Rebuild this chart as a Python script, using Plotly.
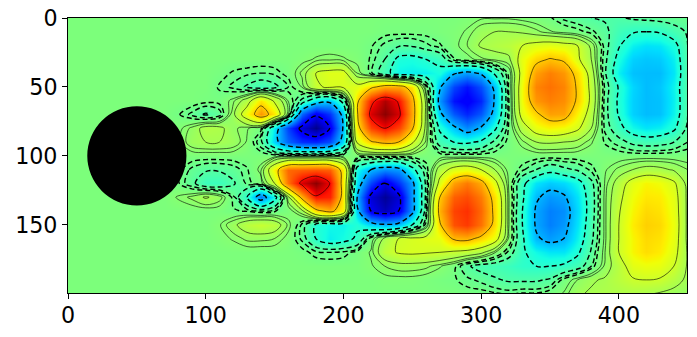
import plotly.graph_objects as go

# vorticity, in hundredths, one list per row (x = 0, 10, ... 450)
x_grid = [0, 10, 20, 30, 40, 50, 60, 70, 80, 90, 100, 110, 120, 130, 140, 150, 160, 170, 180, 190,
          200, 210, 220, 230, 240, 250, 260, 270, 280, 290, 300, 310, 320, 330, 340, 350, 360, 370, 380, 390,
          400, 410, 420, 430, 440, 450]
y_grid = [0, 10, 20, 30, 40, 50, 60, 70, 80, 90, 100, 110, 120, 130, 140, 150, 160, 170, 180, 190, 200]

y000 = [0,0,0,0,0,0,0,0,0,0, 0,0,0,0,0,0,0,0,0,0, 0,0,0,0,0,0,0,0,0,1, 2,2,2,1,0,-2,-6,-8,-10,-11, -11,-9,-8,-7,-6,-5]
y010 = [0,0,0,0,0,0,0,0,0,0, 0,0,0,0,0,0,0,0,0,0, 0,0,0,-1,-1,-1,-1,0,1,3, 8,10,10,9,6,3,1,-1,-4,-8, -15,-19,-20,-19,-14,-9]
y020 = [0,0,0,0,0,0,0,0,0,0, 0,0,0,0,0,0,0,0,0,0, 0,0,-2,-6,-9,-9,-6,-3,1,5, 11,13,15,20,24,26,24,20,8,-7, -19,-28,-31,-30,-24,-10]
y030 = [0,0,0,0,0,0,0,0,0,0, 0,0,0,0,0,0,0,1,3,4, 3,1,-3,-10,-23,-24,-20,-16,-3,1, 4,6,8,26,36,41,38,22,10,-8, -24,-34,-36,-35,-28,-10]
y040 = [0,0,0,0,0,0,0,0,0,0, 0,-1,-3,-4,-5,-4,-1,6,20,24, 24,5,-4,-15,-27,-28,-28,-24,-38,-44, -38,-18,-1,25,48,55,50,35,14,-9, -28,-37,-38,-38,-30,-10]
y050 = [0,0,0,0,0,0,0,0,0,0, 0,-3,-6,-11,-15,-12,-5,3,18,22, 22,24,36,46,46,34,-1,-38,-62,-72, -60,-36,-2,28,54,58,54,38,16,-6, -21,-33,-38,-36,-27,-10]
y060 = [0,0,0,0,0,0,0,0,0,0, -1,-1,4,14,34,18,2,-12,-30,-36, -15,36,75,92,78,45,8,-46,-72,-78, -68,-38,-3,28,50,55,52,38,17,-7, -22,-34,-38,-37,-28,-10]
y070 = [0,0,0,0,0,0,0,0,-2,-6, -11,-7,8,28,50,32,2,-55,-78,-65, -35,38,85,98,85,47,8,-36,-58,-68, -58,-34,-3,25,37,48,47,30,14,-7, -21,-34,-38,-37,-27,-10]
y080 = [0,0,0,0,0,0,0,0,1,6, 13,12,6,3,-1,-30,-62,-85,-98,-80, -38,33,68,80,68,42,7,-22,-36,-48, -38,-22,-2,14,26,30,28,22,10,-6, -16,-26,-30,-28,-22,-8]
y090 = [0,0,0,0,0,0,0,0,1,8, 10,10,8,2,-8,-34,-55,-66,-68,-60, -32,22,38,44,40,22,4,-14,-20,-22, -18,-8,-1,4,10,11,10,8,3,-3, -7,-12,-14,-13,-10,-5]
y100 = [0,0,0,0,0,0,0,0,0,0, 0,0,0,0,0,0,0,0,0,0, 0,0,0,0,0,0,0,0,0,0, 0,0,0,0,0,0,0,0,0,0, 0,0,0,0,0,0]
y110 = [0,0,0,0,0,0,0,0,-1,-6, -9,-9,-7,-3,4,32,60,62,64,62, 33,-25,-40,-48,-45,-24,-5,14,24,27, 20,10,1,-4,-10,-16,-12,-9,-4,2, 6,10,13,12,9,5]
y120 = [0,0,0,0,0,0,0,0,-2,-8, -16,-16,-11,-4,0,20,58,85,98,80, 32,-30,-62,-82,-65,-44,-8,24,48,56, 46,24,2,-17,-30,-35,-32,-25,-12,3, 14,25,30,28,22,7]
y130 = [0,0,0,0,0,0,0,0,3,6, 11,7,-4,-20,-50,-25,8,45,78,75, 33,-40,-85,-96,-85,-45,-8,40,62,66, 56,34,3,-18,-38,-45,-42,-30,-14,4, 17,28,33,32,25,8]
y140 = [0,0,0,0,0,0,0,0,0,0, 0,0,-2,-3,-5,-3,0,8,35,45, 30,-35,-80,-90,-80,-45,-6,45,68,72, 60,36,3,-20,-42,-50,-47,-32,-14,4, 19,30,36,34,26,8]
y150 = [0,0,0,0,0,0,0,0,0,0, 0,2,8,15,18,15,4,-6,-22,-26, -27,-22,-32,-38,-35,-20,-1,38,65,70, 58,35,3,-20,-42,-50,-45,-30,-13,4, 20,32,38,36,27,8]
y160 = [0,0,0,0,0,0,0,0,0,0, 0,1,3,6,6,5,1,-6,-20,-28, -25,-18,0,12,20,22,24,26,42,44, 36,26,2,-18,-38,-44,-40,-27,-12,4, 20,30,36,34,26,8]
y170 = [0,0,0,0,0,0,0,0,0,0, 0,0,0,0,0,0,0,-1,-4,-5, -4,-1,3,16,21,22,21,20,18,16, 12,3,-6,-18,-26,-30,-30,-22,-9,5, 20,30,35,32,24,9]
y180 = [0,0,0,0,0,0,0,0,0,0, 0,0,0,0,0,0,0,0,0,0, 0,0,2,5,7,7,6,3,-1,-9, -13,-14,-16,-19,-20,-20,-18,-14,-5,6, 15,25,27,26,20,9]
y190 = [0,0,0,0,0,0,0,0,0,0, 0,0,0,0,0,0,0,0,0,0, 0,0,0,1,1,1,0,-1,-2,-4, -6,-9,-11,-11,-11,-9,-1,5,9,11, 15,19,20,19,14,8]
y200 = [0,0,0,0,0,0,0,0,0,0, 0,0,0,0,0,0,0,0,0,0, 0,0,0,0,0,0,0,0,0,-1, -1,-2,-3,-2,-2,0,3,9,11,12, 12,12,11,9,7,6]

vorticity = [y000, y010, y020, y030, y040, y050, y060, y070, y080, y090, y100,
             y110, y120, y130, y140, y150, y160, y170, y180, y190, y200]

pos_levels = [2.5, 5, 10, 20, 40, 80]
neg_levels = [-2.5, -5, -10, -20, -40, -80]
x_ticks = [0, 100, 200, 300, 400]
y_ticks = [0, 50, 100, 150]
cyl_x, cyl_y, cyl_r = 50, 100, 36

# matplotlib jet
jet = [[0, "rgb(0,0,128)"], [0.11, "rgb(0,0,255)"], [0.125, "rgb(0,0,255)"], [0.34, "rgb(0,219,255)"],
       [0.35, "rgb(0,230,247)"], [0.375, "rgb(21,255,226)"], [0.64, "rgb(239,255,8)"], [0.65, "rgb(247,246,0)"],
       [0.66, "rgb(255,236,0)"], [0.89, "rgb(255,19,0)"], [0.91, "rgb(232,0,0)"], [1, "rgb(128,0,0)"]]

fig = go.Figure()
fig.add_trace(go.Heatmap(x=x_grid, y=y_grid, z=vorticity, colorscale=jet, zmin=-100, zmax=100,
                         zsmooth="best", showscale=False, hoverinfo="skip"))


def add_level(level, width, dash):
    fig.add_trace(go.Contour(x=x_grid, y=y_grid, z=vorticity, autocontour=False, showscale=False,
                             contours=dict(coloring="lines", start=level, end=level, size=1),
                             colorscale=[[0, "black"], [1, "black"]],
                             line=dict(width=width, dash=dash, smoothing=1), hoverinfo="skip"))


for lev in pos_levels:
    add_level(lev, 0.6, "solid")
for lev in neg_levels:
    add_level(lev, 1.4, "5px,3px")

fig.add_shape(type="circle", xref="x", yref="y", x0=cyl_x - cyl_r, x1=cyl_x + cyl_r,
              y0=cyl_y - cyl_r, y1=cyl_y + cyl_r, fillcolor="black", line=dict(color="black", width=0), layer="above")

axis_style = dict(showgrid=False, zeroline=False, showline=True, mirror=True, linecolor="black", linewidth=1.1,
                  ticks="outside", ticklen=5, tickwidth=1.1, tickcolor="black", automargin=False,
                  tickfont=dict(family="DejaVu Sans", size=22.2, color="black"))
fig.update_xaxes(range=[0, 449.5], tickvals=x_ticks, ticklabelstandoff=-3, **axis_style)
fig.update_yaxes(range=[199.5, 0], tickvals=y_ticks, **axis_style)
fig.update_layout(width=697, height=337, margin=dict(l=68, r=10, t=18, b=44),
                  paper_bgcolor="white", plot_bgcolor="white", showlegend=False)

# the page's default body margin would push the figure 8px in
fig.write_html("out.html", config={"displayModeBar": False}, post_script="document.body.style.margin='0';")
